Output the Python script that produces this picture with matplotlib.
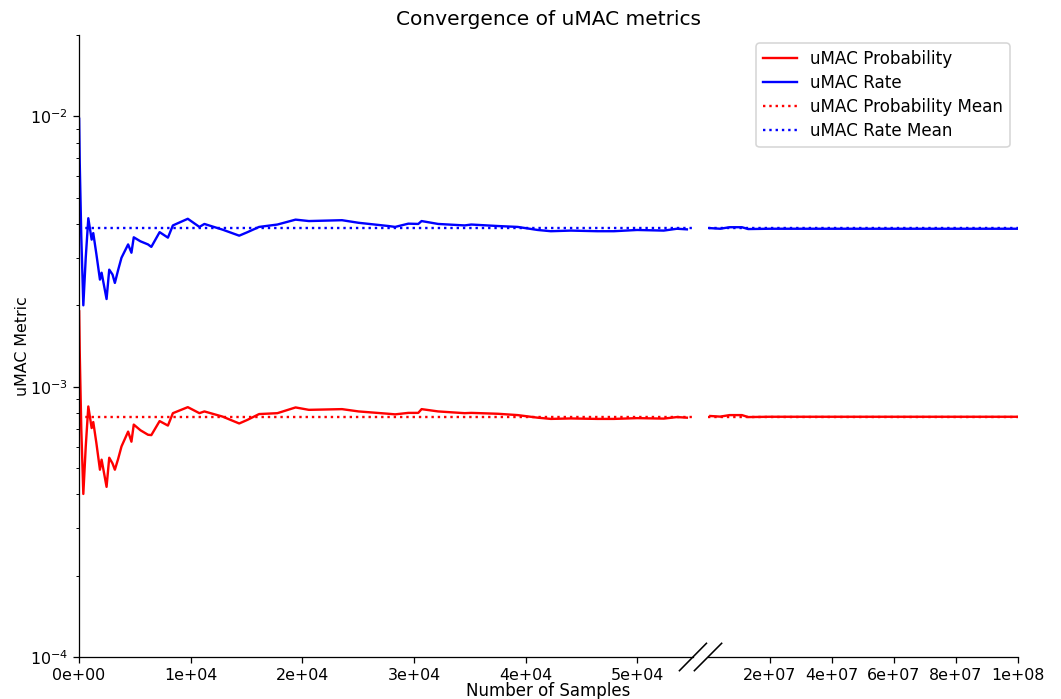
import matplotlib
matplotlib.use("Agg")
import matplotlib.pyplot as plt
from matplotlib.ticker import FormatStrFormatter, MultipleLocator

# running uMAC estimates, first 55k samples
samples_left = [10, 60, 200, 383, 600, 830, 1130, 1275, 1550, 1872, 2020, 2466, 2704,
                3000, 3209, 3500, 3803, 4397, 4694, 4902, 5500, 6179, 6476, 7219,
                7962, 8407, 9744, 10784, 11230, 12863, 14349, 15092, 16132, 17768,
                19400, 20590, 23560, 25040, 27720, 28320, 29500, 30390, 30690,
                32170, 34550, 35140, 37520, 39300, 41090, 42270, 44060, 46430,
                47920, 50000, 52380, 53570, 54460]
rate_left = [0.0098, 0.0068, 0.0036, 0.0020, 0.0030, 0.0042, 0.0035, 0.0037, 0.0031,
             0.00249, 0.00264, 0.00211, 0.00271, 0.0026, 0.00242, 0.0027, 0.0030,
             0.00336, 0.00313, 0.00357, 0.00345, 0.00336, 0.00329, 0.00373,
             0.00356, 0.00395, 0.00418, 0.0039, 0.0040, 0.00381, 0.00362, 0.00373,
             0.0039, 0.00398, 0.00415, 0.0041, 0.00413, 0.00404, 0.00393, 0.0039,
             0.00401, 0.0040, 0.0041, 0.0040, 0.00395, 0.00398, 0.00393, 0.0039,
             0.0038, 0.00376, 0.00378, 0.00376, 0.00376, 0.0038, 0.00378, 0.00384,
             0.00382]
prob_left = [0.0019, 0.00135, 0.0007, 0.000401, 0.0006, 0.000845, 0.000703, 0.00074,
             0.00062, 0.000493, 0.000537, 0.000426, 0.000546, 0.00052, 0.000493,
             0.00054, 0.000601, 0.000682, 0.000626, 0.000724, 0.00069, 0.000664,
             0.000662, 0.000746, 0.000718, 0.000798, 0.00084, 0.000798, 0.00081,
             0.000775, 0.000731, 0.000754, 0.000792, 0.000798, 0.000838, 0.000821,
             0.000826, 0.00081, 0.000794, 0.00079, 0.0008, 0.0008, 0.000826,
             0.00081, 0.000798, 0.0008, 0.000794, 0.000785, 0.000768, 0.00076,
             0.000763, 0.00076, 0.00076, 0.000765, 0.000762, 0.000772, 0.000768]

# tail of the run, up to 1e8 samples
samples_right = [8e5, 4e6, 7e6, 1.1e7, 1.3e7, 2e7, 4e7, 6e7, 8e7, 1e8]
rate_right = [0.00386, 0.00384, 0.00389, 0.00389, 0.00383, 0.00384, 0.00384,
              0.00384, 0.00384, 0.00384]
prob_right = [0.000779, 0.000775, 0.000785, 0.000785, 0.000772, 0.000774, 0.000774,
              0.000774, 0.000774, 0.000774]

rate_mean = 0.00385
prob_mean = 0.000775

DPI = 114
fig = plt.figure(figsize=(1061 / DPI, 699 / DPI), dpi=DPI)
ax1 = fig.add_axes([0.0745, 0.0601, 0.5786, 0.8898])
ax2 = fig.add_axes([0.6673, 0.0601, 0.2922, 0.8898], sharey=ax1)

for ax, xs, rate, prob in [(ax1, samples_left, rate_left, prob_left),
                           (ax2, samples_right, rate_right, prob_right)]:
    ax.plot(xs, prob, color="red", label="uMAC Probability")
    ax.plot(xs, rate, color="blue", label="uMAC Rate")
    ax.axhline(prob_mean, color="red", linestyle=":", label="uMAC Probability Mean")
    ax.axhline(rate_mean, color="blue", linestyle=":", label="uMAC Rate Mean")
    ax.set_yscale("log")
    ax.xaxis.set_major_formatter(FormatStrFormatter("%.0e"))

ax1.set_ylim(1e-4, 2e-2)
ax1.set_xlim(0, 55000)
ax1.xaxis.set_major_locator(MultipleLocator(10000))
ax2.set_xlim(55000, 1e8)
ax2.xaxis.set_major_locator(MultipleLocator(2e7))

ax1.spines["top"].set_visible(False)
ax1.spines["right"].set_visible(False)
for s in ["top", "right", "left"]:
    ax2.spines[s].set_visible(False)
ax2.tick_params(axis="y", which="both", left=False, labelleft=False)

# break marks
d = 0.022
ax1.plot((1 - d, 1 + d), (-d, d), transform=ax1.transAxes, color="k",
         lw=1, clip_on=False)
d2 = 0.044
ax2.plot((-d2, d2), (-d, d), transform=ax2.transAxes, color="k",
         lw=1, clip_on=False)

handles, labels = ax1.get_legend_handles_labels()
ax2.legend(handles, labels, loc="upper right", fontsize=10.6, labelspacing=0.36)

fig.text(0.5165, 0.972, "Convergence of uMAC metrics", ha="center", va="center",
         fontsize=12.7)
fig.text(0.5165, 0.0115, "Number of Samples", ha="center", va="center",
         fontsize=10.5)
fig.text(0.021, 0.505, "uMAC Metric", ha="center", va="center", rotation=90)

fig.savefig("out.png", dpi=DPI)
